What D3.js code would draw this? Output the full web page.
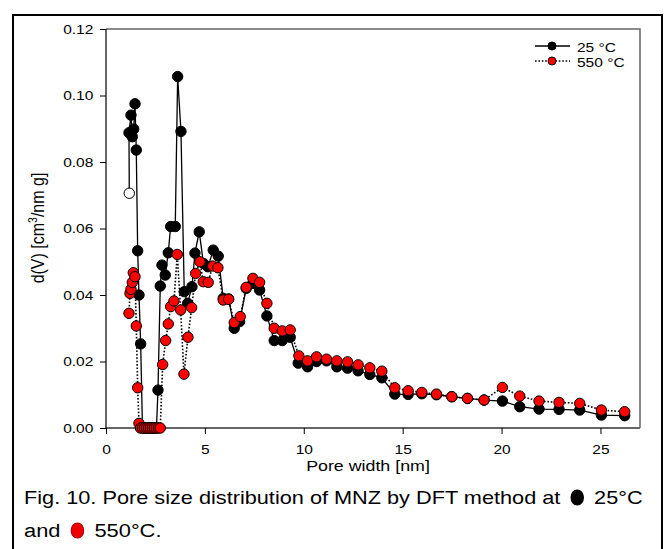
<!DOCTYPE html>
<html><head><meta charset="utf-8">
<script src="https://cdn.jsdelivr.net/npm/d3@7"></script>
<style>body{margin:0;background:#fff}svg{display:block}text{font-family:"Liberation Sans",Arial,sans-serif}</style>
</head><body>
<svg id="c" width="669" height="549"></svg>
<script>
// Pore width [nm] and d(V) values, 25 °C (black)
const x25 = [1.177,1.162,1.263,1.329,1.400,1.466,1.531,1.602,1.668,1.753,1.844,1.945,2.047,2.148,2.249,2.350,2.451,2.552,2.628,2.744,2.830,2.996,3.148,3.269,3.502,3.623,3.790,3.957,4.128,4.346,4.497,4.714,4.927,5.154,5.422,5.675,5.927,6.200,6.483,6.756,7.089,7.428,7.767,8.135,8.504,8.909,9.313,9.717,10.192,10.647,11.152,11.673,12.213,12.749,13.340,13.946,14.603,15.275,15.968,16.710,17.484,18.277,19.116,20.045,20.920,21.895,22.906,23.952,25.048,26.226];
const y25 = [0.0706,0.0888,0.0941,0.0876,0.0899,0.0975,0.0836,0.0533,0.0400,0.0253,0,0,0,0,0,0,0,0,0.0114,0.0427,0.0490,0.0460,0.0527,0.0606,0.0606,0.1057,0.0892,0.0410,0.0375,0.0425,0.0526,0.0590,0.0495,0.0485,0.0535,0.0517,0.0390,0.0388,0.0300,0.0320,0.0420,0.0435,0.0415,0.0337,0.0263,0.0263,0.0273,0.0195,0.0184,0.0200,0.0202,0.0184,0.0180,0.0172,0.0161,0.0151,0.0102,0.0101,0.0103,0.0100,0.0094,0.0089,0.0084,0.0081,0.0064,0.0057,0.0056,0.0054,0.0039,0.0037];
// 550 °C (red)
const x550 = [1.162,1.213,1.263,1.329,1.380,1.466,1.531,1.602,1.668,1.743,1.844,1.945,2.047,2.148,2.249,2.350,2.451,2.552,2.653,2.744,2.865,3.017,3.148,3.269,3.436,3.603,3.775,3.941,4.144,4.330,4.533,4.750,4.917,5.169,5.392,5.659,5.927,6.200,6.483,6.786,7.089,7.428,7.767,8.135,8.504,8.909,9.313,9.752,10.192,10.647,11.152,11.673,12.213,12.749,13.340,13.946,14.603,15.275,15.968,16.710,17.484,18.277,19.116,20.045,20.920,21.895,22.906,23.952,25.048,26.226];
const y550 = [0.0345,0.0405,0.0417,0.0438,0.0467,0.0455,0.0307,0.0121,0.0014,0,0,0,0,0,0,0,0,0,0,0,0.0191,0.0263,0.0313,0.0365,0.0382,0.0522,0.0355,0.0162,0.0273,0.0362,0.0465,0.0500,0.0440,0.0438,0.0487,0.0482,0.0385,0.0387,0.0317,0.0335,0.0423,0.0450,0.0438,0.0375,0.0300,0.0292,0.0295,0.0217,0.0202,0.0214,0.0207,0.0202,0.0199,0.0190,0.0181,0.0171,0.0121,0.0112,0.0107,0.0102,0.0094,0.0089,0.0084,0.0122,0.0096,0.0081,0.0077,0.0074,0.0054,0.0049];
const xTicks = [0,5,10,15,20,25];
const yTicks = [0,0.02,0.04,0.06,0.08,0.10,0.12];
const seriesNames = ["25 °C","550 °C"];

const SX = 1.15; // horizontal stretch of the lettering
const svg = d3.select("#c");
const x = d3.scaleLinear().domain([0,27]).range([106,640]);
const y = d3.scaleLinear().domain([0,0.12]).range([428,29]);

// outer border
svg.append("path").attr("d","M13,549V15H662V549").attr("fill","none").attr("stroke","#000").attr("stroke-width",2);

// frame top/right
svg.append("path").attr("d",`M${x(0)},${y(0.12)}H${x(27)}V${y(0)}`).attr("fill","none").attr("stroke","#666").attr("stroke-width",1.5);

// axes
const gx = svg.append("g").attr("transform",`translate(0,${y(0)})`)
  .call(d3.axisBottom(x).tickValues(xTicks).tickSize(6).tickPadding(10).tickFormat(d3.format("d")));
gx.select(".domain").attr("stroke","#666").attr("stroke-width",2).attr("d",`M${x(0)},0H${x(27)}`);
gx.selectAll(".tick line").attr("stroke","#000");
gx.selectAll("text").attr("font-size",13.5).attr("fill","#000").attr("font-family","'Liberation Sans',Arial,sans-serif").attr("transform",`scale(${SX},1)`);

const gy = svg.append("g").attr("transform",`translate(${x(0)},0)`)
  .call(d3.axisLeft(y).tickValues(yTicks).tickSize(6).tickPadding(5).tickFormat(d3.format(".2f")));
gy.select(".domain").attr("stroke","#000").attr("stroke-width",1.2).attr("d",`M0,${y(0)}V${y(0.12)}`);
gy.selectAll("text").attr("font-size",13.5).attr("fill","#000").attr("font-family","'Liberation Sans',Arial,sans-serif").attr("transform",`scale(${SX},1)`);

const d25 = x25.map((v,i)=>[v,y25[i]]);
const d550 = x550.map((v,i)=>[v,y550[i]]);
const line = d3.line().x(d=>x(d[0])).y(d=>y(d[1]));

svg.append("path").datum(d25).attr("d",line).attr("fill","none").attr("stroke","#000").attr("stroke-width",1.3);
svg.append("g").selectAll("circle").data(d25).join("circle")
  .attr("cx",d=>x(d[0])).attr("cy",d=>y(d[1])).attr("r",5.2)
  .attr("fill",(d,i)=>i===0?"#fff":"#000").attr("stroke","#000").attr("stroke-width",1);

svg.append("path").datum(d550).attr("d",line).attr("fill","none").attr("stroke","#000").attr("stroke-width",1.6).attr("stroke-dasharray","1.6,1.8");
svg.append("g").selectAll("circle").data(d550).join("circle")
  .attr("cx",d=>x(d[0])).attr("cy",d=>y(d[1])).attr("r",5.2)
  .attr("fill","#ff0000").attr("stroke","#000").attr("stroke-width",1);

// legend
const leg = svg.append("g");
[0,1].forEach(i=>{
  const ly = 46 + i*15;
  leg.append("line").attr("x1",535).attr("x2",570).attr("y1",ly).attr("y2",ly)
    .attr("stroke","#000").attr("stroke-width",i?1.6:1.3).attr("stroke-dasharray",i?"1.6,1.8":null);
  leg.append("circle").attr("cx",552).attr("cy",ly).attr("r",4)
    .attr("fill",i?"#ff0000":"#000").attr("stroke","#000");
  leg.append("text").attr("transform",`translate(577,${ly+6}) scale(${SX},1)`).attr("font-size",13.5).text(seriesNames[i]);
});

// axis titles
svg.append("text").attr("transform",`translate(368,471) scale(${SX},1)`).attr("text-anchor","middle").attr("font-size",15.5).text("Pore width [nm]");
const yt = svg.append("text").attr("transform",`translate(44,228) scale(${SX},1) rotate(-90)`).attr("text-anchor","middle").attr("font-size",16);
yt.append("tspan").text("d(V) [cm");
yt.append("tspan").attr("font-size",10.5).attr("dy",-6).text("3");
yt.append("tspan").attr("dy",6).text("/nm g]");

// caption
function caption(yb, pre, col, post, targetW){
  const g = svg.append("g");
  const t = g.append("text").attr("font-size",19);
  const a = t.append("tspan").text(pre);
  const gap = t.append("tspan").text("\u2003");
  const b = t.append("tspan").text(post);
  const full = t.node().getComputedTextLength();
  const sx = targetW ? targetW/full : SX;
  g.attr("transform",`translate(24,${yb}) scale(${sx},1)`);
  const s0 = a.node().getComputedTextLength();
  const gw = gap.node().getComputedTextLength();
  g.append("ellipse").attr("cx",s0+gw/2).attr("cy",-6.5).attr("rx",5.4).attr("ry",7.6)
    .attr("fill",col).attr("stroke",col==="#000"?"#000":"#b00000").attr("stroke-width",1);
  return sx;
}
caption(504,"Fig. 10. Pore size distribution of MNZ by DFT method at ","#000"," 25°C",619);
caption(537,"and ","#ee0000"," 550°C.",null);
</script>
</body></html>
